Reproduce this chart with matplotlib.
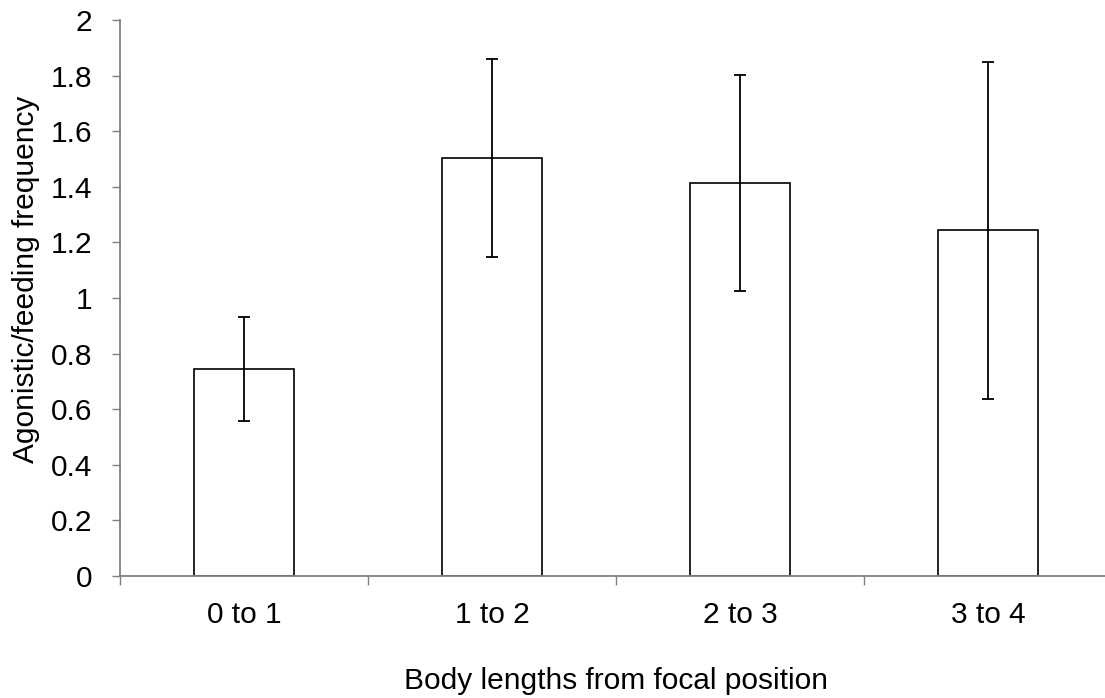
import matplotlib
matplotlib.use('Agg')
import matplotlib.pyplot as plt
import numpy as np

# data
categories = ['0 to 1', '1 to 2', '2 to 3', '3 to 4']
means = [0.746, 1.502, 1.414, 1.243]
errors = [0.187, 0.356, 0.389, 0.606]
yticks = [0, 0.2, 0.4, 0.6, 0.8, 1, 1.2, 1.4, 1.6, 1.8, 2]
ytick_labels = ['0', '0.2', '0.4', '0.6', '0.8', '1', '1.2', '1.4', '1.6', '1.8', '2']

plt.rcParams['font.family'] = ['Liberation Sans', 'DejaVu Sans']
axis_grey = '#808080'

fig = plt.figure(figsize=(11.05, 6.98), dpi=100)
ax = fig.add_axes([120 / 1105, 1 - 576 / 698, 992 / 1105, 556 / 698])

x = np.arange(len(categories))
ax.bar(x, means, width=0.4, color='white', edgecolor='black', linewidth=1.2)
ax.errorbar(x, means, yerr=errors, fmt='none', ecolor='black',
            elinewidth=1.3, capsize=4.3, capthick=1.3)

ax.set_xlim(-0.5, len(categories) - 0.5)
ax.set_ylim(0, 2)

ax.set_yticks(yticks)
ax.set_yticklabels(ytick_labels)
ax.set_xticks(x)
ax.set_xticklabels(categories)
ax.set_xticks(np.arange(len(categories) + 1) - 0.5, minor=True)

ax.tick_params(axis='y', which='major', labelsize=21.5, length=6, width=1,
               color=axis_grey, pad=14)
ax.tick_params(axis='x', which='major', labelsize=21.5, length=0, pad=18)
ax.tick_params(axis='x', which='minor', length=6.5, width=1, color=axis_grey)

for side in ['top', 'right']:
    ax.spines[side].set_visible(False)
for side in ['left', 'bottom']:
    ax.spines[side].set_color(axis_grey)
    ax.spines[side].set_linewidth(1.3)

fig.text(616 / 1105, 1 - 681 / 698, 'Body lengths from focal position',
         fontsize=21.5, ha='center', va='center')
fig.text(26 / 1105, 1 - 279 / 698, 'Agonistic/feeding frequency',
         fontsize=21.5, ha='center', va='center', rotation=90)

fig.savefig('out.png', dpi=100)
